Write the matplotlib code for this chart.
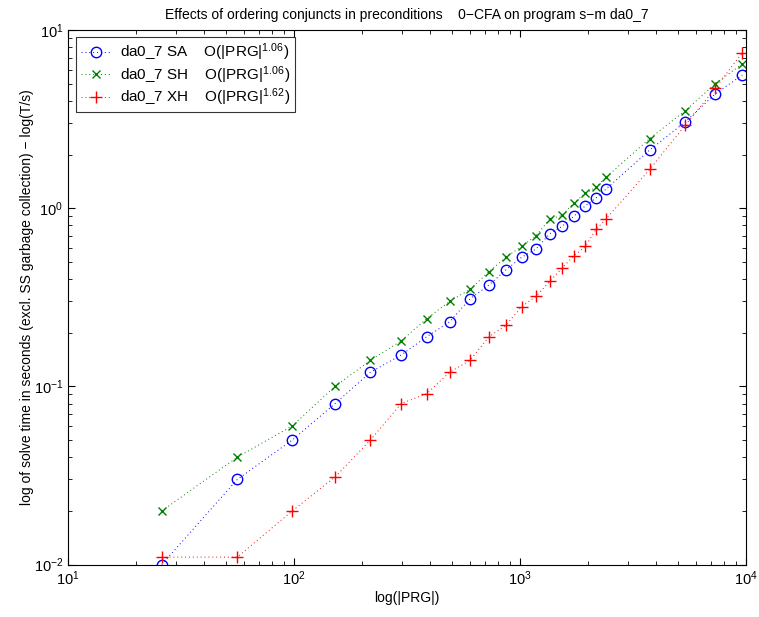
import numpy as np
import matplotlib
matplotlib.use("Agg")
import matplotlib.pyplot as plt

plt.rcParams['font.family'] = ['Liberation Sans', 'DejaVu Sans']
plt.rcParams['mathtext.fontset'] = 'custom'
plt.rcParams['mathtext.rm'] = 'Liberation Sans'
plt.rcParams['mathtext.it'] = 'Liberation Sans'

# program sizes |PRG|
prg = [26.0, 56.1, 98.3, 152, 218, 298, 387, 488, 601, 729, 865, 1017,
       1177, 1357, 1534, 1728, 1945, 2169, 2402, 3749, 5387, 7315, 9630]

# solve times (s)
sa = [0.01, 0.03, 0.05, 0.08, 0.12, 0.15, 0.19, 0.23, 0.31, 0.37, 0.45, 0.53,
      0.59, 0.72, 0.79, 0.90, 1.03, 1.14, 1.28, 2.12, 3.05, 4.38, 5.59]
sh = [0.02, 0.04, 0.06, 0.10, 0.14, 0.18, 0.24, 0.30, 0.35, 0.44, 0.53, 0.61,
      0.70, 0.87, 0.91, 1.07, 1.21, 1.31, 1.49, 2.46, 3.52, 5.00, 6.45]
xh = [0.011, 0.011, 0.02, 0.031, 0.05, 0.08, 0.091, 0.12, 0.14, 0.19, 0.22, 0.28,
      0.32, 0.39, 0.46, 0.54, 0.61, 0.76, 0.87, 1.65, 2.92, 4.71, 7.46]

labels = ['da0_7 SA    O(|PRG|$^{1.06}$)',
          'da0_7 SH    O(|PRG|$^{1.06}$)',
          'da0_7 XH    O(|PRG|$^{1.62}$)']

fig = plt.figure(figsize=(7.59, 6.17), dpi=100)
ax = fig.add_axes([68 / 759, 52.5 / 617, 678 / 759, 534.5 / 617])

dots = (1, 3)
ax.plot(prg, sa, color='blue', ls=(0, dots), marker='o', mfc='none', ms=7.5, mew=1.0, lw=0.7, label=labels[0])
ax.plot(prg, sh, color='green', ls=(0, dots), marker='x', ms=6, mew=1.0, lw=0.7, label=labels[1])
ax.plot(prg, xh, color='red', ls=(0, dots), marker='+', ms=8, mew=1.0, lw=0.7, label=labels[2])

ax.set_xscale('log')
ax.set_yscale('log')
ax.set_xlim(10, 1e4)
ax.set_ylim(1e-2, 10)

ax.tick_params(which='both', direction='in', top=True, right=True, labelsize=10.5)
ax.tick_params(which='major', length=5)
ax.tick_params(which='minor', length=3)
for s in ax.spines.values():
    s.set_linewidth(0.8)

ax.set_xlabel('log(|PRG|)', fontsize=10, labelpad=2)
ax.set_ylabel('log of solve time in seconds (excl. SS garbage collection) \u2212 log(T/s)', fontsize=10, labelpad=0)
ax.set_title('Effects of ordering conjuncts in preconditions    0\u2212CFA on program s\u2212m da0_7', fontsize=10, pad=8)

leg = ax.legend(loc='upper left', fontsize=11, frameon=True, fancybox=False,
                edgecolor='black', bbox_to_anchor=(8 / 678, 1 - 7 / 534.5), borderaxespad=0,
                handlelength=2.0, borderpad=0.3, labelspacing=0.05, handletextpad=0.6)
leg.get_frame().set_linewidth(0.8)

fig.savefig('out.png', dpi=100)
